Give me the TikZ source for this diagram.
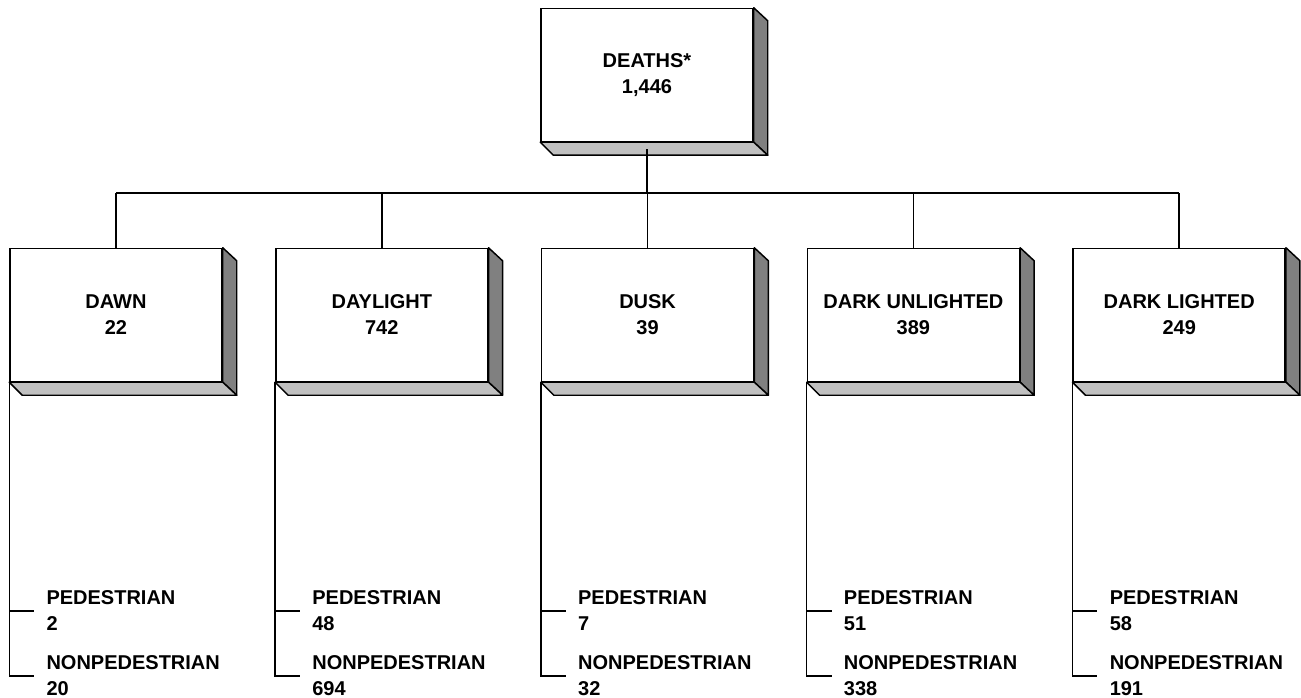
\documentclass[tikz,border=0pt]{standalone}
\usepackage{fontspec}
\setmainfont{Liberation Sans}
\usepackage{tikz}

\definecolor{sidedark}{RGB}{128,128,128}
\definecolor{sidelight}{RGB}{192,192,192}

\tikzset{
  boxface/.style={draw, line width=1.1pt, fill=white, minimum width=159pt, minimum height=99.75pt,
    align=center, font=\fontsize{15}{19.5}\selectfont\bfseries, inner sep=0pt},
  leaf/.style={anchor=west, align=left, inner xsep=9pt, inner ysep=0pt,
    font=\fontsize{15}{19.5}\selectfont\bfseries},
  link/.style={line width=1.1pt},
}

\begin{document}
\begin{tikzpicture}[x=0.75pt,y=0.75pt,yscale=-1,xscale=1]
\useasboundingbox (0,0) rectangle (1301,698);

% top box
\node[boxface] (deaths) at (647,75) {DEATHS*\\1,446};

% light condition boxes
\foreach \n/\t/\v [count=\i from 0] in {dawn/DAWN/22, daylight/DAYLIGHT/742, dusk/DUSK/39,
    darku/DARK UNLIGHTED/389, darkl/DARK LIGHTED/249}
  \node[boxface] (\n) at ({116+265.8*\i},315) {\t\\\v};

% 3d sides
\foreach \n in {deaths,dawn,daylight,dusk,darku,darkl}{
  \draw[line width=1.1pt, fill=sidedark, line join=round] (\n.north east) -- ++(14,13)
    -- ([shift={(14,13)}]\n.south east) -- (\n.south east) -- cycle;
  \draw[line width=1.1pt, fill=sidelight, line join=round] (\n.south west) -- (\n.south east)
    -- ++(14,13) -- ([shift={(13,13)}]\n.south west) -- cycle;
}

% tree connectors
\coordinate (bus) at (647,193);
\draw[link] ([shift={(0,7)}]deaths.south) -- (bus);
\draw[link] (dawn.north |- bus) -- (darkl.north |- bus);
\foreach \n in {dawn,daylight,dusk,darku,darkl}
  \draw[link] (\n.north) -- (\n.north |- bus);

% pedestrian / nonpedestrian
\foreach \n/\p/\q in {dawn/2/20, daylight/48/694, dusk/7/32, darku/51/338, darkl/58/191}{
  \node[leaf] (\n-p) at ([xshift=18.75pt]\n.south west |- 0,611) {PEDESTRIAN\\\p};
  \node[leaf] (\n-np) at ([xshift=18.75pt]\n.south west |- 0,676) {NONPEDESTRIAN\\\q};
  \draw[link] (\n.south west) |- (\n-np.west);
  \draw[link] (\n.south west |- \n-p.west) -- (\n-p.west);
}

\end{tikzpicture}
\end{document}
